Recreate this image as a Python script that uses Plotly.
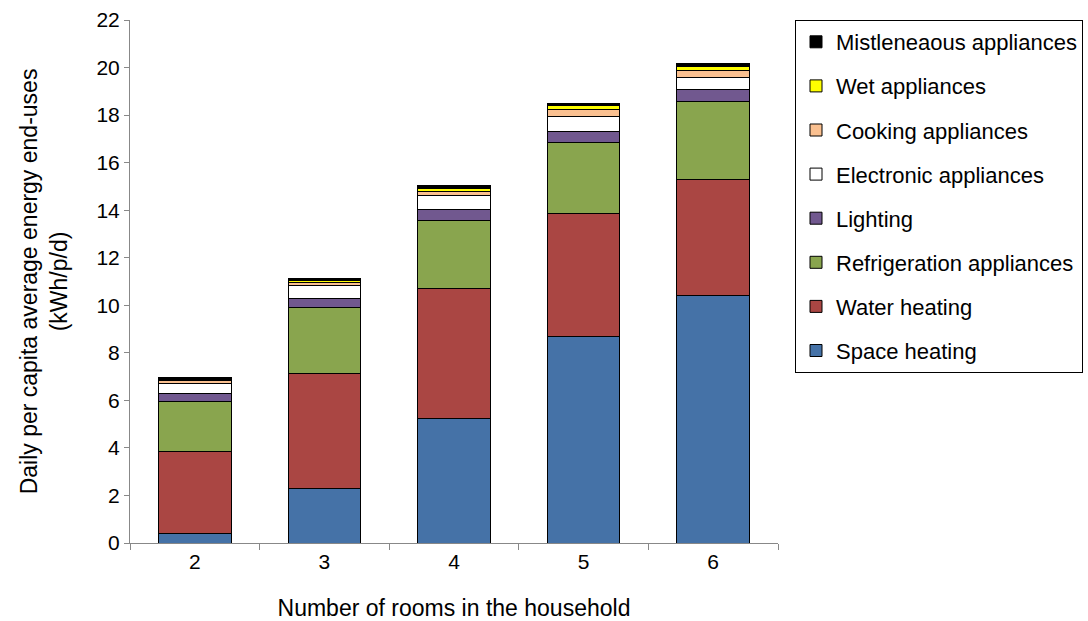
import plotly.graph_objects as go

rooms = ["2", "3", "4", "5", "6"]
space_heating = [0.40, 2.31, 5.22, 8.67, 10.43]
water_heating = [3.43, 4.84, 5.47, 5.17, 4.88]
refrigeration = [2.12, 2.75, 2.88, 2.99, 3.27]
lighting = [0.35, 0.39, 0.45, 0.47, 0.50]
electronic = [0.41, 0.54, 0.58, 0.66, 0.52]
cooking = [0.11, 0.13, 0.19, 0.26, 0.27]
wet = [0.05, 0.09, 0.14, 0.17, 0.16]
misc = [0.08, 0.07, 0.09, 0.11, 0.12]

series = [
    ("Space heating", space_heating, "#4572A7"),
    ("Water heating", water_heating, "#AA4643"),
    ("Refrigeration appliances", refrigeration, "#89A54E"),
    ("Lighting", lighting, "#71588F"),
    ("Electronic appliances", electronic, "#FFFFFF"),
    ("Cooking appliances", cooking, "#FAC090"),
    ("Wet appliances", wet, "#FFFF00"),
    ("Mistleneaous appliances", misc, "#000000"),
]

FONT = "Liberation Sans, Arial, sans-serif"

fig = go.Figure()
n = len(series)
for i, (name, vals, col) in enumerate(series):
    fig.add_trace(go.Bar(
        x=rooms, y=vals, name=name, legendgroup=f"g{i}", legendrank=n - i,
        marker=dict(color=col, line=dict(color="#000000", width=1)),
    ))

fig.update_layout(
    barmode="stack",
    bargap=0.44,
    width=1088, height=621,
    margin=dict(l=130, r=310, t=20, b=78),
    paper_bgcolor="white", plot_bgcolor="white",
    font=dict(family=FONT, size=21, color="#000000"),
    legend=dict(
        xref="container", yref="container",
        x=795 / 1088, xanchor="left", y=1 - 20 / 621, yanchor="top",
        maxheight=500,
        traceorder="grouped", tracegroupgap=12.5,
        bordercolor="#000000", borderwidth=1, bgcolor="white",
        font=dict(family=FONT, size=22, color="#000000"),
        itemwidth=30,
    ),
    xaxis=dict(
        automargin=False,
        showline=True, linecolor="#888888", linewidth=1,
        ticks="outside", tickson="boundaries", ticklen=6, tickcolor="#888888",
        tickfont=dict(size=21),
        title=dict(text="Number of rooms in the household", font=dict(size=23), standoff=27),
        showgrid=False,
    ),
    yaxis=dict(
        automargin=False,
        range=[0, 22], dtick=2, showline=True, linecolor="#888888", linewidth=1,
        ticks="outside", ticklen=5, tickcolor="#888888",
        tickfont=dict(size=21),
        title=dict(text="Daily per capita average energy end-uses<br>(kWh/p/d)", font=dict(size=23), standoff=22),
        showgrid=False, zeroline=False,
    ),
)

fig.write_html("out.html", config={"displayModeBar": False},
               post_script="document.body.style.margin='0';")
